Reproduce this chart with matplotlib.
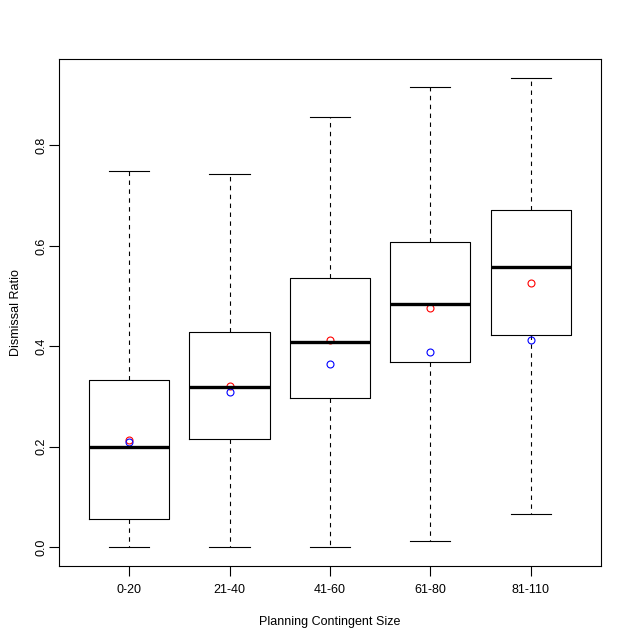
import numpy as np
import matplotlib
matplotlib.use("Agg")
import matplotlib.pyplot as plt

plt.rcParams['font.family'] = ['Liberation Sans', 'DejaVu Sans']

groups = ["0-20", "21-40", "41-60", "61-80", "81-110"]
whis_lo = [0.000, 0.000, 0.000, 0.012, 0.066]
q1 = [0.056, 0.215, 0.297, 0.368, 0.422]
med = [0.200, 0.320, 0.408, 0.484, 0.557]
q3 = [0.332, 0.429, 0.537, 0.607, 0.671]
whis_hi = [0.750, 0.744, 0.856, 0.917, 0.935]
red_pts = [0.213, 0.322, 0.412, 0.476, 0.527]
blue_pts = [0.209, 0.310, 0.364, 0.388, 0.412]

stats = []
for i in range(len(groups)):
    stats.append(dict(label=groups[i], whislo=whis_lo[i], q1=q1[i], med=med[i],
                      q3=q3[i], whishi=whis_hi[i], fliers=[]))

fig = plt.figure(figsize=(6.4, 6.4), dpi=100)
ax = fig.add_axes([0.092, 0.1156, 0.847, 0.7924])

pos = np.arange(1, len(groups) + 1)
ax.bxp(stats, positions=pos, widths=0.8, showfliers=False, patch_artist=False,
       boxprops=dict(color='black', linewidth=0.8),
       medianprops=dict(color='black', linewidth=2.4, solid_capstyle='butt'),
       whiskerprops=dict(color='black', linewidth=0.8, linestyle=(0, (4, 4))),
       capprops=dict(color='black', linewidth=0.8), capwidths=0.4)

ax.plot(pos, red_pts, 'o', mfc='none', mec='red', ms=5, mew=0.8)
ax.plot(pos, blue_pts, 'o', mfc='none', mec='blue', ms=5, mew=0.8)

lo = min(whis_lo)
hi = max(whis_hi)
pad = 0.04 * (hi - lo)
ax.set_ylim(lo - pad, hi + pad)
ax.set_xlim(0.3, 5.7)

ax.set_yticks([0.0, 0.2, 0.4, 0.6, 0.8])
ax.set_yticklabels(["0.0", "0.2", "0.4", "0.6", "0.8"], rotation=90, va='center')
ax.set_xticks(pos)
ax.set_xticklabels(groups)
ax.tick_params(direction='out', length=7, width=0.8, labelsize=9, pad=6)
ax.tick_params(axis='y', pad=1)
for s in ax.spines.values():
    s.set_linewidth(0.8)

ax.set_xlabel("Planning Contingent Size", fontsize=9, labelpad=14)
ax.set_ylabel("Dismissal Ratio", fontsize=9, labelpad=10)

fig.savefig("out.png", dpi=100)
